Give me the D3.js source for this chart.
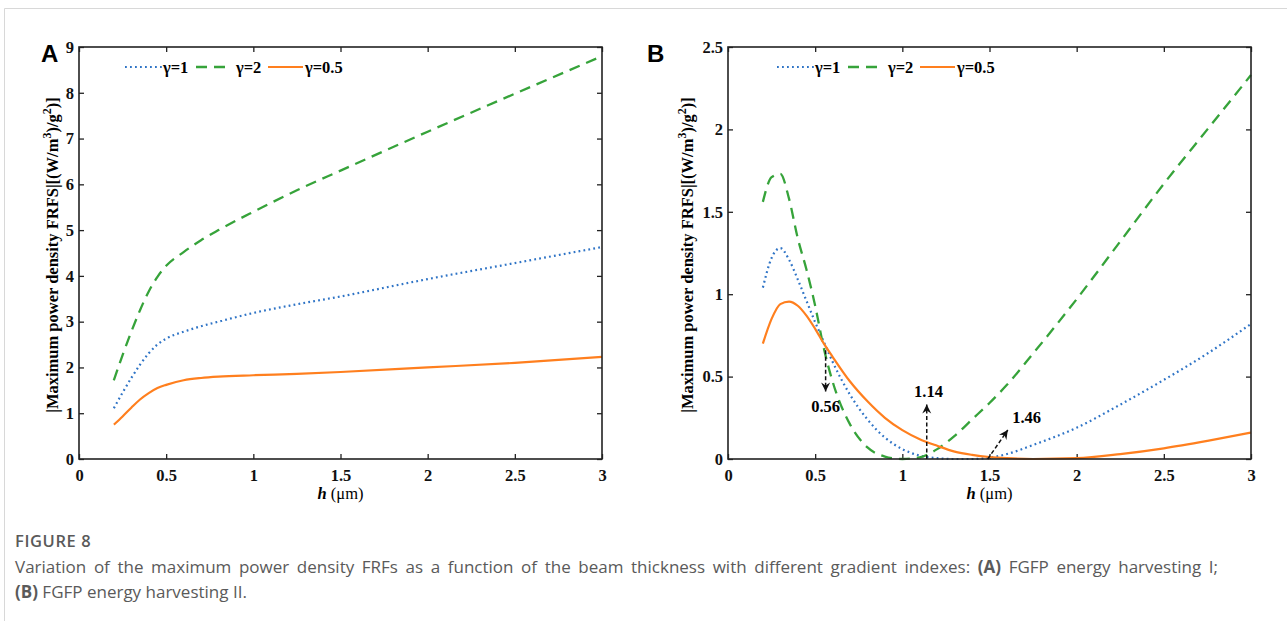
<!DOCTYPE html>
<html lang="en">
  <head>
    <meta charset="UTF-8" />
    <title>Figure 8</title>
    <script src="https://cdn.jsdelivr.net/npm/d3@7"></script>
    <style>
      * {
        box-sizing: border-box;
        margin: 0;
        padding: 0;
      }
      body {
        background: #fff;
        width: 1287px;
        height: 621px;
        overflow: hidden;
      }
      .tick line {
        stroke: #222;
        stroke-width: 1.3;
      }
    </style>
  </head>
  <body>
    <svg id="fig" width="1287" height="621"></svg>

    <script>
      // ---- data ----
      const xTicks = [0, 0.5, 1, 1.5, 2, 2.5, 3];
      const yTicksA = [0, 1, 2, 3, 4, 5, 6, 7, 8, 9];
      const yTicksB = [0, 0.5, 1, 1.5, 2, 2.5];

      const seriesNames = ["γ=1", "γ=2", "γ=0.5"];

      // panel A : FGFP energy harvesting I
      const hA = [0.2, 0.25, 0.3, 0.35, 0.4, 0.45, 0.5, 0.6, 0.7, 0.8, 1.0, 1.25, 1.5, 2.0, 2.5, 3.0];
      const aGamma1 = [1.11, 1.45, 1.77, 2.06, 2.31, 2.5, 2.63, 2.78, 2.9, 3.0, 3.19, 3.38, 3.55, 3.93, 4.28, 4.63];
      const aGamma2 = [1.72, 2.27, 2.78, 3.25, 3.66, 3.98, 4.22, 4.52, 4.78, 5.0, 5.4, 5.87, 6.3, 7.15, 7.98, 8.8];
      const aGamma05 = [0.75, 0.93, 1.12, 1.3, 1.44, 1.55, 1.62, 1.72, 1.77, 1.8, 1.83, 1.86, 1.9, 2.0, 2.1, 2.23];

      // panel B : FGFP energy harvesting II
      const hB = [0.2, 0.25, 0.3, 0.35, 0.4, 0.45, 0.5, 0.55, 0.6, 0.7, 0.8, 0.9, 1.0, 1.1, 1.2, 1.3, 1.4, 1.5, 1.6, 1.75, 2.0, 2.25, 2.5, 2.75, 3.0];
      const bGamma1 = [1.04, 1.22, 1.28, 1.21, 1.09, 0.96, 0.83, 0.71, 0.59, 0.39, 0.24, 0.13, 0.06, 0.02, 0.005, 0, 0, 0.008, 0.03, 0.085, 0.19, 0.33, 0.48, 0.64, 0.82];
      const bGamma2 = [1.56, 1.71, 1.73, 1.58, 1.34, 1.15, 0.93, 0.67, 0.47, 0.21, 0.07, 0.015, 0, 0.01, 0.06, 0.14, 0.24, 0.34, 0.45, 0.64, 0.97, 1.32, 1.67, 2.0, 2.33];
      const bGamma05 = [0.7, 0.85, 0.94, 0.955, 0.93, 0.87, 0.79, 0.7, 0.62, 0.47, 0.35, 0.25, 0.175, 0.12, 0.08, 0.045, 0.025, 0.012, 0.005, 0, 0.005, 0.03, 0.065, 0.11, 0.16];

      // annotations of panel B (data units)
      const notes = [
        { label: "0.56", x0: 0.56, y0: 0.66, x1: 0.56, y1: 0.41, tx: 0.56, ty: 0.285, anchor: "middle" },
        { label: "1.14", x0: 1.14, y0: 0, x1: 1.14, y1: 0.33, tx: 1.15, ty: 0.376, anchor: "middle" },
        { label: "1.46", x0: 1.49, y0: 0, x1: 1.605, y1: 0.176, tx: 1.63, ty: 0.218, anchor: "start" },
      ];

      const colors = ["#2f74c6", "#36a33a", "#ff7f1e"];
      const dashes = ["1.8 3.2", "11 7", null];
      const widths = [2.2, 2.3, 2.2];

      const svg = d3.select("#fig");
      const serif = "'Liberation Serif', 'Times New Roman', serif";

      // page frame
      svg.append("path")
        .attr("d", "M4.5,621 L4.5,8.5 L1287,8.5")
        .attr("fill", "none")
        .attr("stroke", "#d8d8d8")
        .attr("stroke-width", 1);

      function styleTicks(s) {
        s.select(".domain").remove();
        s.selectAll(".tick text")
          .attr("font-family", serif)
          .attr("font-weight", "bold")
          .attr("font-size", 16.5)
          .attr("fill", "#111");
      }

      function panel(opt) {
        const x = d3.scaleLinear().domain([0, 3]).range([opt.left, opt.right]);
        const y = d3.scaleLinear().domain([0, opt.ymax]).range([459, 47]);
        const g = svg.append("g");

        // axes, ticks pointing inward (matlab style)
        g.append("g").attr("transform", "translate(0,459)")
          .call(d3.axisBottom(x).tickValues(xTicks).tickFormat((d) => String(d)).tickSize(-5).tickPadding(10))
          .call(styleTicks);
        g.append("g").attr("transform", "translate(0,47)")
          .call(d3.axisTop(x).tickValues(xTicks).tickFormat("").tickSize(-5))
          .call(styleTicks);
        g.append("g").attr("transform", `translate(${opt.left},0)`)
          .call(d3.axisLeft(y).tickValues(opt.yTicks).tickFormat((d) => String(d)).tickSize(-5).tickPadding(5))
          .call(styleTicks);
        g.append("g").attr("transform", `translate(${opt.right},0)`)
          .call(d3.axisRight(y).tickValues(opt.yTicks).tickFormat("").tickSize(-5))
          .call(styleTicks);

        // curves
        const line = d3.line()
          .x((d) => x(d[0]))
          .y((d) => y(d[1]))
          .curve(d3.curveMonotoneX);
        opt.series.forEach((vals, i) => {
          g.append("path")
            .datum(opt.h.map((h, k) => [h, vals[k]]))
            .attr("d", line)
            .attr("fill", "none")
            .attr("stroke", colors[i])
            .attr("stroke-width", widths[i])
            .attr("stroke-dasharray", dashes[i]);
        });

        // box
        g.append("rect")
          .attr("x", opt.left)
          .attr("y", 47)
          .attr("width", opt.right - opt.left)
          .attr("height", 412)
          .attr("fill", "none")
          .attr("stroke", "#222")
          .attr("stroke-width", 1.6);

        // legend
        const leg = g.append("g").attr("transform", `translate(${opt.legX},67)`);
        const legStarts = [0, 71, 143];
        const legLens = [38, 30, 35];
        const legText = [38, 111, 180];
        seriesNames.forEach((n, i) => {
          leg.append("line")
            .attr("x1", legStarts[i]).attr("x2", legStarts[i] + legLens[i])
            .attr("y1", 0).attr("y2", 0)
            .attr("stroke", colors[i])
            .attr("stroke-width", widths[i])
            .attr("stroke-dasharray", dashes[i]);
          leg.append("text")
            .attr("x", legText[i])
            .attr("y", 5.5)
            .attr("font-family", serif)
            .attr("font-weight", "bold")
            .attr("font-size", 16.5)
            .text(n);
        });

        // panel letter
        g.append("text")
          .attr("x", opt.letterX)
          .attr("y", 62)
          .attr("font-family", "'Liberation Sans', Arial, sans-serif")
          .attr("font-weight", "bold")
          .attr("font-size", 24)
          .text(opt.letter);

        // y label
        const yl = g.append("text")
          .attr("transform", `translate(${opt.ylabX},255) rotate(-90)`)
          .attr("text-anchor", "middle")
          .attr("font-family", serif)
          .attr("font-weight", "bold")
          .attr("font-size", 16.5);
        yl.append("tspan").text("|Maximum power density FRFS|[(W/m");
        yl.append("tspan").attr("dy", -7).attr("font-size", 12).text("3");
        yl.append("tspan").attr("dy", 7).text(")/g");
        yl.append("tspan").attr("dy", -7).attr("font-size", 12).text("2");
        yl.append("tspan").attr("dy", 7).text(")]");

        // x label
        const xl = g.append("text")
          .attr("x", (opt.left + opt.right) / 2)
          .attr("y", 499)
          .attr("text-anchor", "middle")
          .attr("font-family", serif)
          .attr("font-size", 16.5);
        xl.append("tspan").attr("font-weight", "bold").attr("font-style", "italic").text("h");
        xl.append("tspan").text(" (μm)");

        return { g, x, y };
      }

      panel({
        left: 79, right: 602, ymax: 9, yTicks: yTicksA,
        h: hA, series: [aGamma1, aGamma2, aGamma05],
        legX: 125, letter: "A", letterX: 41, ylabX: 58,
      });

      const pB = panel({
        left: 728, right: 1251, ymax: 2.5, yTicks: yTicksB,
        h: hB, series: [bGamma1, bGamma2, bGamma05],
        legX: 777, letter: "B", letterX: 647, ylabX: 693,
      });

      // arrows of panel B
      svg.append("defs").append("marker")
        .attr("id", "head")
        .attr("viewBox", "-10 -5 12 10")
        .attr("refX", 0).attr("refY", 0)
        .attr("markerWidth", 12).attr("markerHeight", 10)
        .attr("markerUnits", "userSpaceOnUse")
        .attr("orient", "auto")
        .append("path")
        .attr("d", "M0,0 L-9,-4.5 L-6,0 L-9,4.5 Z")
        .attr("fill", "#111");

      notes.forEach((n) => {
        pB.g.append("line")
          .attr("x1", pB.x(n.x0)).attr("y1", pB.y(n.y0))
          .attr("x2", pB.x(n.x1)).attr("y2", pB.y(n.y1))
          .attr("stroke", "#111")
          .attr("stroke-width", 1.5)
          .attr("stroke-dasharray", "4 2.5")
          .attr("marker-end", "url(#head)");
        pB.g.append("text")
          .attr("x", pB.x(n.tx)).attr("y", pB.y(n.ty))
          .attr("text-anchor", n.anchor)
          .attr("font-family", serif)
          .attr("font-weight", "bold")
          .attr("font-size", 16.5)
          .text(n.label);
      });

      // caption
      const cap = svg.append("g")
        .attr("font-family", "'Open Sans', 'Noto Sans', sans-serif")
        .attr("fill", "#5a5a5a");
      cap.append("text")
        .attr("x", 15).attr("y", 547)
        .attr("font-size", 16.5).attr("font-weight", 600)
        .attr("letter-spacing", 0.6)
        .text("FIGURE 8");
      const l1 = cap.append("text").attr("x", 15).attr("y", 573).attr("font-size", 17);
      l1.append("tspan").text("Variation of the maximum power density FRFs as a function of the beam thickness with different gradient indexes: ");
      l1.append("tspan").attr("font-weight", 700).text("(A)");
      l1.append("tspan").text(" FGFP energy harvesting I;");
      // stretch the first line to the column edge, like the justified original
      const spaces = l1.text().split(" ").length - 1;
      let w = l1.node().getBBox().width;
      let ws = (1218 - 15 - w) / spaces;
      l1.attr("word-spacing", ws);
      w = l1.node().getBBox().width;
      ws += (1218 - 15 - w) / spaces;
      l1.attr("word-spacing", Math.max(0, ws));
      const l2 = cap.append("text").attr("x", 15).attr("y", 598).attr("font-size", 17);
      l2.append("tspan").attr("font-weight", 700).text("(B)");
      l2.append("tspan").text(" FGFP energy harvesting II.");
    </script>
  </body>
</html>
